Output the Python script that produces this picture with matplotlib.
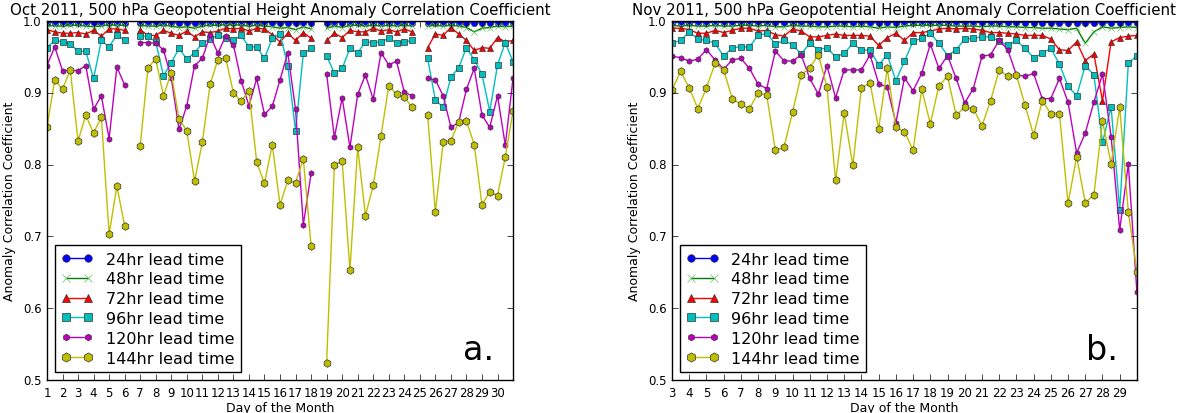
import numpy as np
import matplotlib
matplotlib.use("Agg")
import matplotlib.pyplot as plt

nan = np.nan

# Oct 2011 (12-hourly, days 1..31), gaps where no verification
oct_days = np.arange(1, 31.01, 0.5)
oct_24 = [0.998, 0.998, 0.998, 0.998, 0.998, 0.998, 0.997, 0.998, 0.998, 0.998, 0.998, nan,
          0.998, 0.998, 0.998, 0.998, 0.998, 0.997, 0.998, 0.997, 0.998, 0.998, 0.998, 0.998,
          0.998, 0.998, 0.998, 0.998, 0.998, 0.998, 0.997, 0.998, 0.997, 0.998, 0.998, nan,
          0.998, 0.998, 0.998, 0.998, 0.998, 0.998, 0.998, 0.998, 0.998, 0.998, 0.998, 0.998, nan,
          0.998, 0.998, 0.998, 0.998, 0.998, 0.998, 0.997, 0.998, 0.998, 0.998, 0.998, 0.998]
oct_48 = [0.994, 0.993, 0.993, 0.994, 0.994, 0.993, 0.992, 0.993, 0.995, 0.994, 0.994, nan,
          0.994, 0.993, 0.993, 0.994, 0.993, 0.991, 0.992, 0.990, 0.993, 0.994, 0.994, 0.995,
          0.995, 0.994, 0.993, 0.994, 0.993, 0.992, 0.990, 0.991, 0.988, 0.992, 0.989, nan,
          0.990, 0.993, 0.991, 0.994, 0.994, 0.993, 0.994, 0.993, 0.994, 0.993, 0.994, 0.993, nan,
          0.993, 0.994, 0.993, 0.994, 0.993, 0.991, 0.985, 0.990, 0.991, 0.993, 0.992, 0.993]
oct_72 = [0.988, 0.985, 0.983, 0.983, 0.984, 0.982, 0.987, 0.979, 0.989, 0.989, 0.987, nan,
          0.988, 0.980, 0.980, 0.987, 0.983, 0.980, 0.986, 0.978, 0.985, 0.984, 0.986, 0.990,
          0.989, 0.990, 0.986, 0.990, 0.989, 0.981, 0.971, 0.983, 0.973, 0.984, 0.976, nan,
          0.973, 0.983, 0.977, 0.987, 0.985, 0.985, 0.990, 0.986, 0.988, 0.985, 0.989, 0.985, nan,
          0.963, 0.982, 0.980, 0.991, 0.982, 0.973, 0.959, 0.963, 0.962, 0.977, 0.971, 0.973]
oct_96 = [0.963, 0.973, 0.971, 0.968, 0.958, 0.958, 0.920, 0.973, 0.964, 0.981, 0.973, nan,
          0.979, 0.979, 0.971, 0.924, 0.942, 0.962, 0.947, 0.956, 0.969, 0.975, 0.980, 0.976,
          0.973, 0.980, 0.964, 0.964, 0.948, 0.976, 0.982, 0.938, 0.847, 0.955, 0.962, nan,
          0.952, 0.927, 0.934, 0.962, 0.956, 0.971, 0.970, 0.971, 0.976, 0.970, 0.971, 0.973, nan,
          0.948, 0.890, 0.880, 0.922, 0.935, 0.963, 0.946, 0.926, 0.874, 0.939, 0.970, 0.943]
oct_120 = [0.938, 0.964, 0.931, 0.931, 0.931, 0.938, 0.877, 0.896, 0.836, 0.936, 0.911, nan,
           0.970, 0.970, 0.969, 0.960, 0.921, 0.849, 0.882, 0.938, 0.948, 0.980, 0.955, 0.979,
           0.967, 0.917, 0.882, 0.920, 0.870, 0.881, 0.918, 0.956, 0.877, 0.716, 0.788, nan,
           0.926, 0.838, 0.893, 0.824, 0.898, 0.925, 0.891, 0.956, 0.939, 0.944, 0.901, 0.896, nan,
           0.920, 0.918, 0.896, 0.852, 0.859, 0.905, 0.934, 0.869, 0.852, 0.896, 0.827, 0.921]
oct_144 = [0.852, 0.918, 0.905, 0.932, 0.833, 0.869, 0.844, 0.866, 0.703, 0.770, 0.715, nan,
           0.826, 0.935, 0.947, 0.896, 0.928, 0.864, 0.847, 0.777, 0.831, 0.912, 0.946, 0.949,
           0.900, 0.888, 0.903, 0.803, 0.774, 0.828, 0.744, 0.778, 0.775, 0.808, 0.687, nan,
           0.524, 0.800, 0.805, 0.653, 0.824, 0.729, 0.771, 0.840, 0.910, 0.898, 0.894, 0.880, nan,
           0.869, 0.734, 0.831, 0.833, 0.860, 0.861, 0.828, 0.744, 0.762, 0.757, 0.811, 0.875]

# Nov 2011 (12-hourly, days 3..30)
nov_days = np.arange(3, 30.01, 0.5)
nov_24 = [0.998, 0.998, 0.998, 0.998, 0.998, 0.998, 0.998, 0.998, 0.998, 0.998,
          0.998, 0.998, 0.998, 0.998, 0.998, 0.998, 0.998, 0.998, 0.998, 0.998,
          0.998, 0.998, 0.998, 0.997, 0.998, 0.998, 0.998, 0.998, 0.998, 0.998,
          0.998, 0.998, 0.998, 0.998, 0.998, 0.998, 0.998, 0.998, 0.998, 0.998,
          0.998, 0.998, 0.998, 0.998, 0.998, 0.997, 0.998, 0.998, 0.997, 0.998,
          0.997, 0.998, 0.998, 0.998, 0.998]
nov_48 = [0.994, 0.993, 0.994, 0.993, 0.993, 0.994, 0.993, 0.993, 0.994, 0.994,
          0.993, 0.994, 0.992, 0.992, 0.994, 0.993, 0.993, 0.992, 0.992, 0.993,
          0.993, 0.992, 0.993, 0.992, 0.990, 0.992, 0.991, 0.993, 0.994, 0.994,
          0.994, 0.994, 0.994, 0.993, 0.993, 0.993, 0.992, 0.993, 0.993, 0.992,
          0.992, 0.991, 0.991, 0.990, 0.990, 0.989, 0.988, 0.990, 0.969, 0.985,
          0.992, 0.990, 0.991, 0.992, 0.991]
nov_72 = [0.990, 0.990, 0.988, 0.983, 0.983, 0.987, 0.984, 0.987, 0.990, 0.990,
          0.986, 0.987, 0.981, 0.979, 0.989, 0.986, 0.978, 0.978, 0.980, 0.982,
          0.980, 0.980, 0.980, 0.979, 0.966, 0.977, 0.983, 0.973, 0.984, 0.984,
          0.986, 0.989, 0.990, 0.989, 0.990, 0.989, 0.987, 0.984, 0.984, 0.983,
          0.982, 0.980, 0.980, 0.980, 0.975, 0.960, 0.959, 0.971, 0.945, 0.954,
          0.889, 0.971, 0.977, 0.979, 0.980]
nov_96 = [0.969, 0.973, 0.985, 0.975, 0.973, 0.969, 0.951, 0.963, 0.964, 0.964,
          0.980, 0.983, 0.968, 0.973, 0.967, 0.954, 0.969, 0.960, 0.963, 0.950,
          0.955, 0.969, 0.959, 0.960, 0.939, 0.953, 0.917, 0.944, 0.972, 0.976,
          0.983, 0.969, 0.952, 0.960, 0.975, 0.976, 0.978, 0.978, 0.972, 0.966,
          0.973, 0.962, 0.949, 0.955, 0.962, 0.940, 0.909, 0.896, 0.938, 0.925,
          0.831, 0.880, 0.737, 0.941, 0.952]
nov_120 = [0.951, 0.949, 0.944, 0.947, 0.960, 0.946, 0.933, 0.946, 0.948, 0.934,
           0.912, 0.906, 0.958, 0.945, 0.944, 0.953, 0.920, 0.898, 0.938, 0.893,
           0.932, 0.932, 0.932, 0.953, 0.913, 0.908, 0.858, 0.921, 0.903, 0.927,
           0.968, 0.934, 0.952, 0.920, 0.886, 0.906, 0.951, 0.953, 0.973, 0.960,
           0.925, 0.923, 0.927, 0.892, 0.892, 0.920, 0.887, 0.816, 0.844, 0.887,
           0.926, 0.839, 0.709, 0.801, 0.622]
nov_144 = [0.904, 0.930, 0.907, 0.878, 0.907, 0.941, 0.932, 0.892, 0.884, 0.878,
           0.900, 0.897, 0.820, 0.824, 0.873, 0.925, 0.935, 0.953, 0.908, 0.778,
           0.872, 0.799, 0.907, 0.914, 0.850, 0.934, 0.852, 0.846, 0.820, 0.905,
           0.857, 0.910, 0.923, 0.869, 0.880, 0.878, 0.854, 0.889, 0.932, 0.923,
           0.925, 0.883, 0.841, 0.889, 0.871, 0.871, 0.746, 0.811, 0.747, 0.758,
           0.861, 0.801, 0.880, 0.734, 0.651]

labels = ["24hr lead time", "48hr lead time", "72hr lead time",
          "96hr lead time", "120hr lead time", "144hr lead time"]
styles = [dict(color="b", marker="o", ms=4.5),
          dict(color="g", marker="x", ms=4.5, mec=(0.4, 0.75, 0.4)),
          dict(color="r", marker="^", ms=4.5),
          dict(color="c", marker="s", ms=4.5),
          dict(color="m", marker="h", ms=4),
          dict(color="y", marker="h", ms=5.5)]

plt.style.use("classic")
plt.rcParams["font.family"] = ["DejaVu Sans"]
fig = plt.figure(figsize=(11.8, 4.14), dpi=100, facecolor="white")

panels = [
    (oct_days, [oct_24, oct_48, oct_72, oct_96, oct_120, oct_144],
     "Oct 2011, 500 hPa Geopotential Height Anomaly Correlation Coefficient",
     (1, 31), range(1, 31), "a.", [0.0398, 0.0797, 0.395, 0.867]),
    (nov_days, [nov_24, nov_48, nov_72, nov_96, nov_120, nov_144],
     "Nov 2011, 500 hPa Geopotential Height Anomaly Correlation Coefficient",
     (3, 30), range(3, 30), "b.", [0.5695, 0.0797, 0.394, 0.867]),
]

for days, series, title, xlim, xt, tag, rect in panels:
    ax = fig.add_axes(rect)
    for vals, lab, st in zip(series, labels, styles):
        kw = dict(lw=1.0, mew=0.5, mec="#333333")
        kw.update(st)
        ax.plot(days, vals, label=lab, **kw)
    ax.set_xlim(*xlim)
    ax.set_ylim(0.5, 1.0)
    ax.set_xticks(list(xt))
    ax.set_yticks([0.5, 0.6, 0.7, 0.8, 0.9, 1.0])
    ax.set_yticklabels(["0.5", "0.6", "0.7", "0.8", "0.9", "1.0"])
    ax.tick_params(labelsize=8.5)
    ax.set_title(title, fontsize=10.8)
    ax.set_xlabel("Day of the Month", fontsize=9, labelpad=2)
    ax.set_ylabel("Anomaly Correlation Coefficient", fontsize=9)
    ax.legend(loc="lower left", fontsize=11.5, numpoints=2, labelspacing=0.3,
              markerscale=1.2)
    ax.text(0.96, 0.04, tag, transform=ax.transAxes, ha="right", va="bottom",
            fontsize=24)

fig.savefig("out.png", dpi=100, facecolor="white")
